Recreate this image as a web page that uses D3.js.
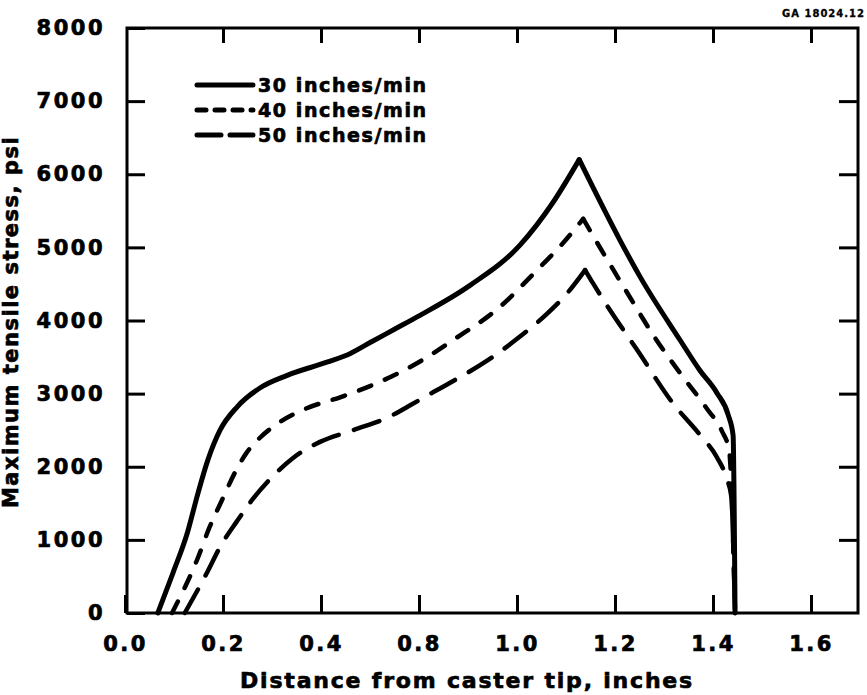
<!DOCTYPE html>
<html>
<head>
<meta charset="utf-8">
<script src="https://cdn.jsdelivr.net/npm/d3@7"></script>
<style>
  body { margin: 0; background: #fff; }
  svg text { font-family: "DejaVu Sans", sans-serif; font-weight: bold; fill: #000; stroke: #000; stroke-width: 0.7px; }
</style>
</head>
<body>
<div id="container"></div>
<script>
// tick labels as printed on the original (note: 0.6 is printed as 0.8 there)
const xTicks = [0.0, 0.2, 0.4, 0.8, 1.0, 1.2, 1.4, 1.6];
const yTicks = [0, 1000, 2000, 3000, 4000, 5000, 6000, 7000, 8000];

const seriesNames = ["30 inches/min", "40 inches/min", "50 inches/min"];

// distance from caster tip (inches, as labelled) and stress (psi)
const dist30 = [0.067, 0.098, 0.127, 0.149, 0.169, 0.194, 0.229, 0.276, 0.331, 0.424, 0.52, 0.612, 0.70, 0.802, 0.904, 1.006, 1.073, 1.127, 1.21, 1.251, 1.333, 1.373, 1.408, 1.431, 1.441, 1.445];
const stress30 = [0, 550, 1090, 1640, 2090, 2500, 2820, 3080, 3250, 3430, 3550, 3720, 3880, 4070, 4480, 5030, 5610, 6200, 5100, 4600, 3730, 3320, 3010, 2710, 2430, 0];

const dist40 = [0.096, 0.147, 0.173, 0.198, 0.224, 0.249, 0.276, 0.316, 0.371, 0.478, 0.612, 0.802, 0.869, 0.965, 1.041, 1.094, 1.135, 1.163, 1.224, 1.282, 1.333, 1.388, 1.418, 1.433, 1.445];
const stress40 = [0, 725, 1180, 1545, 1915, 2200, 2400, 2610, 2800, 2950, 3120, 3440, 3730, 4185, 4690, 5060, 5390, 5070, 4390, 3760, 3280, 2790, 2490, 2220, 0];

const dist50 = [0.122, 0.167, 0.194, 0.229, 0.261, 0.296, 0.343, 0.398, 0.53, 0.67, 0.764, 0.808, 0.869, 0.939, 1.006, 1.061, 1.102, 1.139, 1.155, 1.19, 1.245, 1.318, 1.373, 1.408, 1.429, 1.437, 1.445];
const stress50 = [0, 547, 903, 1260, 1560, 1830, 2120, 2340, 2500, 2670, 2840, 2940, 3170, 3450, 3780, 4090, 4370, 4690, 4510, 4140, 3600, 2870, 2440, 2130, 1820, 1610, 0];

const width = 867;
const height = 695;

// plot frame
const frameLeft = 127, frameRight = 858, frameTop = 28, frameBottom = 613;

// the printed axis skips 0.6, so the labelled values are placed piecewise
const x = d3.scaleLinear()
    .domain([0, 0.4, 0.8, 1.6])
    .range([125, 321, 419, 811]);
const y = d3.scaleLinear()
    .domain([0, 8000])
    .range([frameBottom, frameTop]);

const svg = d3.select("#container")
    .append("svg")
    .attr("width", width)
    .attr("height", height);

function styleAxis(g) {
    g.select(".domain").remove();
    g.selectAll(".tick line").attr("stroke", "#000").attr("stroke-width", 3);
    g.selectAll("text")
        .attr("fill", "#000")
        .style("font-size", "21px")
        .style("letter-spacing", "2.5px");
}

// bottom axis
svg.append("g")
    .attr("transform", "translate(0," + frameBottom + ")")
    .call(d3.axisBottom(x).tickValues(xTicks).tickSize(-18).tickPadding(23).tickFormat(d3.format(".1f")))
    .call(styleAxis);

// left axis
svg.append("g")
    .attr("transform", "translate(" + frameLeft + ",0)")
    .call(d3.axisLeft(y).tickValues(yTicks).tickSize(-18).tickPadding(22).tickFormat(d3.format("d")))
    .call(styleAxis);

// top and right ticks, no labels
svg.append("g")
    .attr("transform", "translate(0," + frameTop + ")")
    .call(d3.axisTop(x).tickValues(xTicks.slice(1)).tickSize(-15).tickFormat(""))
    .call(styleAxis);
svg.append("g")
    .attr("transform", "translate(" + frameRight + ",0)")
    .call(d3.axisRight(y).tickValues(yTicks.slice(1, -1)).tickSize(-19).tickFormat(""))
    .call(styleAxis);

svg.append("rect")
    .attr("x", frameLeft)
    .attr("y", frameTop)
    .attr("width", frameRight - frameLeft)
    .attr("height", frameBottom - frameTop)
    .attr("fill", "none")
    .attr("stroke", "#000")
    .attr("stroke-width", 3);

const series = [
    {name: seriesNames[0], dist: dist30, stress: stress30, dash: null, legendDash: null, w: 5},
    {name: seriesNames[1], dist: dist40, stress: stress40, dash: "13,15", legendDash: "9,9", w: 4.5},
    {name: seriesNames[2], dist: dist50, stress: stress50, dash: "27,16", legendDash: "24,9", w: 4.5}
];

const line = d3.line()
    .x(d => x(d[0]))
    .y(d => y(d[1]))
    .curve(d3.curveMonotoneX);

// each curve is smooth on either side of a sharp peak
for (const s of series) {
    const pts = d3.zip(s.dist, s.stress);
    const peak = d3.maxIndex(s.stress);
    for (const part of [pts.slice(0, peak + 1), pts.slice(peak)]) {
        svg.append("path")
            .datum(part)
            .attr("fill", "none")
            .attr("stroke", "#000")
            .attr("stroke-width", s.w)
            .attr("stroke-linecap", "round")
            .attr("stroke-linejoin", "round")
            .attr("stroke-dasharray", s.dash)
            .attr("d", line);
    }
}

// legend
const legend = svg.append("g").attr("transform", "translate(195,85)");
series.forEach((s, i) => {
    const row = legend.append("g").attr("transform", "translate(0," + i * 25 + ")");
    row.append("line")
        .attr("x1", 2).attr("x2", 58)
        .attr("stroke", "#000")
        .attr("stroke-width", 5)
        .attr("stroke-linecap", "round")
        .attr("stroke-dasharray", s.legendDash);
    row.append("text")
        .attr("x", 63)
        .attr("dy", "0.36em")
        .style("font-size", "19px")
        .style("letter-spacing", "1.6px")
        .text(s.name);
});

// axis titles
svg.append("text")
    .attr("x", 467)
    .attr("y", 688)
    .attr("text-anchor", "middle")
    .style("font-size", "22px")
    .style("letter-spacing", "1.8px")
    .text("Distance from caster tip, inches");

svg.append("text")
    .attr("transform", "translate(18,322) rotate(-90)")
    .attr("text-anchor", "middle")
    .style("font-size", "21px")
    .style("letter-spacing", "1.5px")
    .text("Maximum tensile stress, psi");

// drawing number, top right
svg.append("text")
    .attr("x", 865)
    .attr("y", 17)
    .attr("text-anchor", "end")
    .style("font-size", "10px")
    .style("letter-spacing", "1px")
    .style("stroke-width", "0.3px")
    .text("GA 18024.12");
</script>
</body>
</html>
